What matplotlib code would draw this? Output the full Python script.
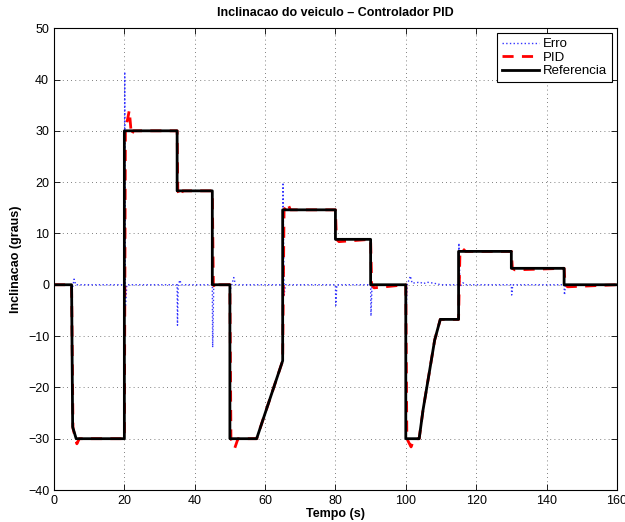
import matplotlib
matplotlib.use('Agg')
import matplotlib.pyplot as plt

plt.rcParams['font.family'] = ['Liberation Sans', 'DejaVu Sans']

# Referencia (setpoint) - breakpoints
t_ref = [0, 5, 5.3, 6.3, 20, 20, 35, 35, 45, 45, 50, 50, 57.6, 65, 65, 80, 80,
         90, 90, 100, 100, 103.8, 104.9, 106.8, 108.2, 109.8, 115, 115, 130, 130,
         145, 145, 160]
v_ref = [0, 0, -27.7, -30, -30, 30, 30, 18.3, 18.3, 0, 0, -30, -30, -14.8, 14.6,
         14.6, 8.85, 8.85, 0, 0, -30, -30, -24.4, -16.6, -10.8, -6.75, -6.75, 6.5,
         6.5, 3.2, 3.2, 0, 0]

# PID output
t_pid = [0, 5, 5.4, 6.5, 7.2, 20, 20.3, 21.4, 22.0, 22.6, 35, 35.2, 35.8, 36.6,
         45, 45.3, 46.2, 47.0, 50, 50.3, 51.4, 52.3, 57.6, 65, 65.4, 66.4, 67.2,
         80, 80.3, 81.0, 90, 90.3, 91.0, 100, 100.3, 101.5, 102.4, 103.8, 104.9,
         106.8, 108.2, 109.8, 115, 115.4, 116.2, 117.0, 130, 130.3, 131.0, 145,
         145.3, 146.0, 160]
v_pid = [0, 0, -28.0, -31.0, -30, -30, 30, 34.0, 29.2, 30, 30, 18.3, 17.2, 18.3,
         18.3, 0, -0.9, 0, 0, -30, -31.8, -30, -30, -14.8, 14.6, 15.9, 14.6,
         14.6, 8.85, 8.4, 8.85, 0, -0.6, 0, -30, -31.6, -30, -30, -24.4,
         -16.6, -10.8, -6.75, -6.75, 6.5, 7.0, 6.5, 6.5, 3.2, 2.9, 3.2, 0, -0.4, 0]

# Erro
t_err = [0, 5, 5.2, 5.7, 6.2, 20, 20.1, 20.3, 20.7, 35, 35.1, 35.3, 35.8, 36.2,
         45, 45.1, 45.4, 50, 50.2, 51.1, 51.6, 65, 65.1, 65.4, 65.8, 80, 80.1, 80.4,
         90, 90.1, 90.4, 100, 100.1, 100.4, 101.3, 101.8, 104, 105, 106, 108, 110,
         115, 115.1, 115.4, 116.2, 117, 130, 130.1, 130.4, 145, 145.1, 145.4, 160]
v_err = [0, 0, -1.0, 1.1, 0, 0, 41.5, -4.3, 0, 0, -7.9, 0, 0.9, 0,
         0, -12.2, 0, 0, -0.8, 1.4, 0, 0, 19.9, -2.0, 0, 0, -4.0, 0,
         0, -6.1, 0, 0, -5.0, 0, 1.7, 0.3, 0.5, 0.2, 0.5, 0.3, 0,
         0, 8.1, -0.4, 0.4, 0, 0, -2.0, 0, 0, -2.0, 0, 0]

fig = plt.figure(figsize=(6.25, 5.22), dpi=100)
ax = fig.add_axes([0.0864, 0.0613, 0.9006, 0.8847])

ax.plot(t_err, v_err, ':', color='#3333ff', linewidth=1.0, label='Erro')
ax.plot(t_pid, v_pid, '--', color='#ff0000', linewidth=2.0, dashes=(4, 3), label='PID')
ax.plot(t_ref, v_ref, '-', color='black', linewidth=2.0, label='Referencia')

ax.set_xlim(0, 160)
ax.set_ylim(-40, 50)
ax.set_xticks(range(0, 161, 20))
ax.set_yticks(range(-40, 51, 10))
ax.set_yticklabels(['\u221240', '\u221230', '\u221220', '\u221210', '0', '10', '20', '30', '40', '50'])

ax.grid(True, linestyle=(0, (1, 4)), color='#555555', linewidth=0.6)
ax.tick_params(direction='in', top=True, right=True, labelsize=9, length=4, width=0.6)
for s in ax.spines.values():
    s.set_linewidth(0.8)

ax.set_title('Inclinacao do veiculo \u2013 Controlador PID', fontsize=9, fontweight='bold', pad=9)
ax.set_xlabel('Tempo (s)', fontsize=9, fontweight='bold', labelpad=1)
ax.set_ylabel('Inclinacao (graus)', fontsize=9, fontweight='bold', labelpad=4)

leg = ax.legend(loc='upper right', fontsize=9.5, fancybox=False, framealpha=1,
                edgecolor='black', borderaxespad=0.4, handlelength=2.8,
                labelspacing=0.1, borderpad=0.35, handletextpad=0.3)
leg.get_frame().set_linewidth(0.8)

fig.savefig('out.png', dpi=100)
